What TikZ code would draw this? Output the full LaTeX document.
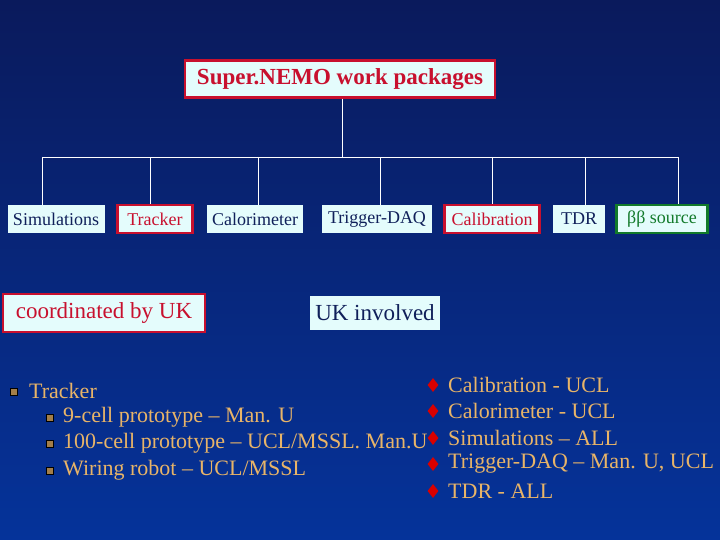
\documentclass[tikz,border=0pt]{standalone}
\usepackage{fontspec}
\setmainfont{Liberation Serif}
\usetikzlibrary{shapes.geometric}
\definecolor{navy}{HTML}{0A1A5C}
\definecolor{slide}{HTML}{05339A}
\definecolor{boxfill}{HTML}{E4FCFC}
\definecolor{boxtext}{HTML}{10205A}
\definecolor{ukred}{HTML}{C8102E}
\definecolor{srcgreen}{HTML}{127A2A}
\definecolor{tan}{HTML}{E8B468}
\tikzset{
  wp/.style={fill=boxfill,text=boxtext,font=\fontsize{18}{20}\selectfont,inner sep=2pt,minimum height=28pt},
  wpuk/.style={wp,draw=ukred,line width=2.5pt,text=ukred},
  tree/.style={draw=white,line width=0.8pt},
  item/.style={text=tan,anchor=west,font=\fontsize{22}{24}\selectfont,inner sep=0pt},
  sqbullet/.style={fill=tan!70!black,minimum size=7pt,inner sep=0pt,draw=black,line width=0.8pt},
  redbullet/.style={diamond,fill=red!85!black,minimum width=11pt,minimum height=14pt,inner sep=0pt},
}
\begin{document}
\begin{tikzpicture}[x=1pt,y=-1pt]
\shade[top color=navy,bottom color=slide] (0,0) rectangle (720,540);
\useasboundingbox (0,0) rectangle (720,540);
% title
\node[wpuk,text=ukred,font=\bfseries\fontsize{23}{25}\selectfont,minimum width=310pt,minimum height=37pt] (top) at (340,79) {Super.NEMO work packages};
% packages
\node[wp,minimum width=97pt] (sim) at (56,219) {Simulations};
\node[wpuk,minimum width=75pt] (trk) at (155,219) {Tracker};
\node[wp,minimum width=96pt] (cal) at (255,219) {Calorimeter};
\node[wp,minimum width=110pt] (trg) at (377,219) {Trigger-DAQ};
\node[wpuk,minimum width=95pt] (clb) at (492,219) {Calibration};
\node[wp,minimum width=52pt] (tdr) at (579,219) {TDR};
\node[wp,minimum width=91pt,draw=srcgreen,line width=2.5pt,text=srcgreen] (src) at (662,219) {ββ source};
% tree
\coordinate (bar) at (342,157);
\draw[tree] (top.south -| bar) -- (bar);
\draw[tree] (42,157) -- (678,157);
\foreach \x/\n in {42/sim,150/trk,258/cal,380/trg,492/clb,585/tdr,678/src}
  \draw[tree] (\x,157) -- (\x,0 |- \n.north);
% legend
\node[wpuk,font=\fontsize{23}{25}\selectfont,minimum width=202pt,minimum height=38pt] (leg1) at (104,313) {coordinated by UK};
\node[wp,font=\fontsize{23}{25}\selectfont,minimum width=130pt,minimum height=34pt] (leg2) at (375,313) {UK involved};
% left list
\node[sqbullet] (b0) at (14,392) {};
\node[item] (t0) at (29,391) {Tracker};
\foreach \y/\t [count=\i] in {417/{9-cell prototype -- Man. U},443/{100-cell prototype -- UCL/MSSL. Man.U},470/{Wiring robot -- UCL/MSSL}}{
  \node[sqbullet] (sb\i) at (50,\y+1) {};
  \node[item] (st\i) at (63,\y) {\t};
}
% right list
\foreach \y/\t [count=\i] in {385/{Calibration - UCL},411/{Calorimeter - UCL},438/{Simulations -- ALL},464/{Trigger-DAQ -- Man. U, UCL},491/{TDR - ALL}}{
  \node[redbullet] (rb\i) at (433,\y) {};
  \node[item] (rt\i) at (448,\y) {\t};
}
\end{tikzpicture}
\end{document}
